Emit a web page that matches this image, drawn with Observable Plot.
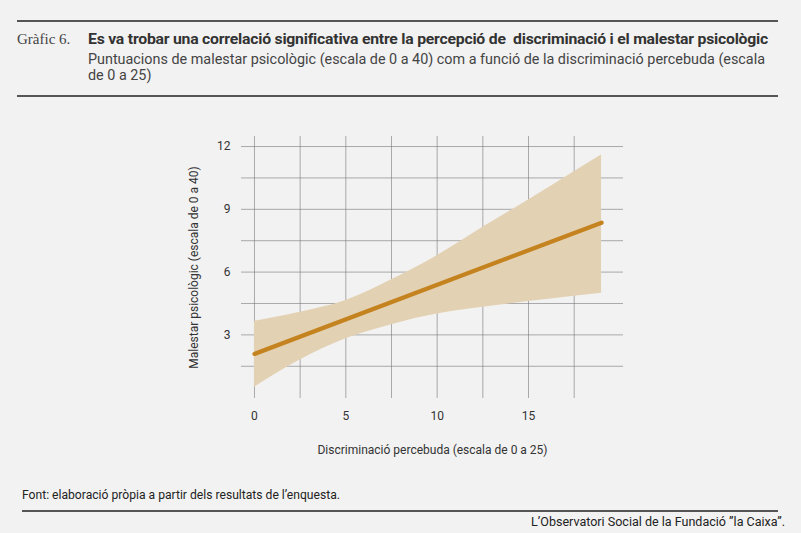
<!DOCTYPE html>
<html>
<head>
<meta charset="utf-8">
<script src="https://cdn.jsdelivr.net/npm/d3@7"></script>
<script src="https://cdn.jsdelivr.net/npm/@observablehq/plot@0.6"></script>
<style>
  html, body { margin: 0; padding: 0; background: #f2f2f2; }
  body { width: 801px; height: 533px; position: relative; overflow: hidden; font-family: Roboto, sans-serif; color: #333; }
  .rule { position: absolute; height: 2px; background: #555; }
  .fit { position: absolute; white-space: nowrap; transform-origin: 0 0; }
  #num { position: absolute; left: 17px; top: 31px; font-family: "Liberation Serif", serif; font-size: 15px; color: #444; }
  #title { left: 88px; top: 31px; font-weight: bold; font-size: 14px; color: #333; letter-spacing: -0.2px; }
  #sub1 { left: 88px; top: 51px; font-size: 14px; color: #444; }
  #sub2 { left: 88px; top: 67px; font-size: 14px; color: #444; }
  #font { left: 22px; top: 488px; font-size: 12px; color: #222; }
  #credit { left: 531px; top: 515px; font-size: 12px; color: #222; }
  #chart { position: absolute; left: 0; top: 100px; }
</style>
</head>
<body>
<div class="rule" style="left:17px; width:761px; top:20px;"></div>
<div id="num">Gràfic 6.</div>
<div id="title" class="fit" data-w="680">Es va trobar una correlació significativa entre la percepció de&nbsp; discriminació i el malestar psicològic</div>
<div id="sub1" class="fit" data-w="677">Puntuacions de malestar psicològic (escala de 0 a 40) com a funció de la discriminació percebuda (escala</div>
<div id="sub2" class="fit" data-ref="sub1">de 0 a 25)</div>
<div class="rule" style="left:17px; width:761px; top:95px;"></div>
<div id="chart"></div>
<div id="font" class="fit" data-w="318">Font: elaboració pròpia a partir dels resultats de l’enquesta.</div>
<div class="rule" style="left:22px; width:756px; top:510px;"></div>
<div id="credit" class="fit" data-w="254">L’Observatori Social de la Fundació ”la Caixa”.</div>
<script>
// Discrimination (x) sample points with confidence band of distress (y)
const bandX     = [0, 2.5, 5, 7.5, 10, 12.5, 15, 17.5, 19];
const bandLower = [0.5, 1.8, 2.81, 3.49, 4.0, 4.32, 4.59, 4.85, 4.99];
const bandUpper = [3.65, 4.08, 4.64, 5.63, 6.78, 8.14, 9.44, 10.8, 11.6];
const fitX = [0, 19];
const fitY = [2.09, 8.36];
const xTicks = [0, 5, 10, 15];
const xGrid = [0, 2.5, 5, 7.5, 10, 12.5, 15, 17.5];
const yTicks = [3, 6, 9, 12];
const yGrid = [1.5, 3, 4.5, 6, 7.5, 9, 10.5, 12];

const band = bandX.map((x, i) => ({x, lo: bandLower[i], hi: bandUpper[i]}));
const fit = fitX.map((x, i) => ({x, y: fitY[i]}));

const chart = Plot.plot({
  width: 801,
  height: 380,
  marginLeft: 241,
  marginRight: 178,
  marginTop: 36,
  marginBottom: 82,
  style: {background: "transparent", fontFamily: "Roboto, sans-serif", fontSize: "12px", color: "#333"},
  x: {domain: [-0.71, 20.2]},
  y: {domain: [-0.04, 12.48]},
  marks: [
    Plot.gridX(xGrid, {stroke: "#777", strokeOpacity: 0.75, strokeWidth: 0.8}),
    Plot.gridY(yGrid, {stroke: "#777", strokeOpacity: 0.75, strokeWidth: 0.8}),
    Plot.areaY(band, {x: "x", y1: "lo", y2: "hi", fill: "#e3d1b3", curve: "monotone-x"}),
    Plot.line(fit, {x: "x", y: "y", stroke: "#c5831f", strokeWidth: 4.2, strokeLinecap: "round"}),
    Plot.axisX(xTicks, {tickSize: 0, tickPadding: 13, fontSize: 12, label: "Discriminació percebuda (escala de 0 a 25)", labelAnchor: "center", labelOffset: 55, labelArrow: "none", dx: 0}),
    Plot.axisY(yTicks, {tickSize: 0, tickPadding: 11, fontSize: 12, label: "Malestar psicològic (escala de 0 a 40)", labelAnchor: "center", labelOffset: 52, labelArrow: "none"})
  ]
});
document.getElementById("chart").appendChild(chart);

// Fit header/footer texts to the widths they take in the reference
const scales = {};
document.querySelectorAll(".fit").forEach(el => {
  let s;
  if (el.dataset.w) s = +el.dataset.w / el.getBoundingClientRect().width;
  else s = scales[el.dataset.ref] || 1;
  scales[el.id] = s;
  el.style.transform = `scaleX(${s})`;
});
</script>
</body>
</html>
